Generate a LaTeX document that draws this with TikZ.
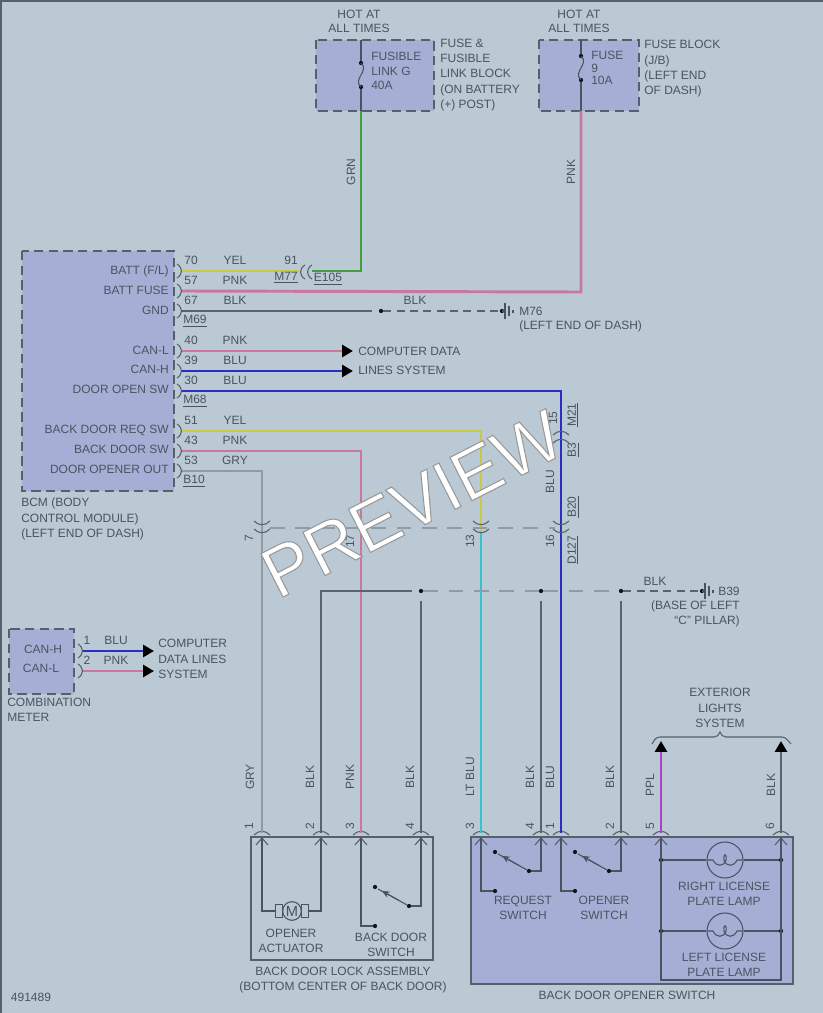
\documentclass[tikz,border=0pt]{standalone}
\usepackage{fontspec}
\setmainfont{Liberation Sans}
\newfontfamily\wmfont[FakeBold=1.5]{Liberation Sans}
\usetikzlibrary{arrows.meta,calc}
\definecolor{paper}{HTML}{BAC9D3}
\definecolor{unit}{HTML}{A5AFD5}
\definecolor{ink}{HTML}{4A5460}
\definecolor{edge}{HTML}{56606B}
\definecolor{cYEL}{HTML}{C6CB45}
\definecolor{cPNK}{HTML}{C9779C}
\definecolor{cBLU}{HTML}{2A2EC4}
\definecolor{cGRN}{HTML}{3F9E3F}
\definecolor{cGRY}{HTML}{8F9BA5}
\definecolor{cBLK}{HTML}{5A626B}
\definecolor{cLTB}{HTML}{36C4CC}
\definecolor{cPPL}{HTML}{B43EC4}
\tikzset{
    every node/.style={font=\fontsize{9}{11}\selectfont,text=ink,inner sep=0pt},
    >=Stealth,
    wire/.style={line width=2.2pt},
    thinw/.style={draw=ink,line width=.8pt},
    dashw/.style={draw=cBLK,line width=1.3pt,dash pattern=on 6pt off 4pt},
    faint/.style={draw=cGRY,line width=.8pt,dash pattern=on 11pt off 8pt},
    unitbox/.style={draw=edge,fill=unit,line width=1pt,dash pattern=on 7pt off 4pt},
    solidbox/.style={draw=edge,line width=1.1pt},
    tagl/.style={anchor=west,align=left},
    tagr/.style={anchor=east,align=right},
    tagv/.style={rotate=90},
    dotn/.style={circle,fill=black!75!ink,minimum size=3.2pt},
    lampc/.style={circle,draw=ink,line width=.8pt,minimum size=27pt},
    motorc/.style={circle,draw=ink,fill=paper,line width=.8pt,minimum size=14pt},
    arrowend/.style={-{Triangle[color=black,length=8.2pt,width=9pt]}},
    pinr/.pic={\draw[edge,line width=.8pt] (-2,-7) .. controls (4,-3) and (4,3) .. (-2,7);},
    pinl/.pic={\draw[edge,line width=.8pt] (2,-7) .. controls (-4,-3) and (-4,3) .. (2,7);},
    pindown/.pic={\draw[edge,line width=.8pt] (-8,-3) .. controls (-3,2) and (3,2) .. (8,-3);},
    pinup/.pic={\draw[edge,line width=.8pt] (-8,3) .. controls (-3,-2) and (3,-2) .. (8,3);},
    pinin/.pic={\draw[edge,line width=.8pt] (-6,7) -- (0,0) -- (6,7);},
    earth/.pic={\draw[ink,line width=.8pt] (0,0) -- (3,0) (3,-8) -- (3,8) (7,-5) -- (7,5) (11,-1.5) -- (11,1.5);},
    lampcoil/.pic={\draw[ink,line width=.8pt] (-18,0) -- (-12,0) .. controls (-9,7) and (-1,7) .. (1,0)
        .. controls (2,-7) and (-2,-7) .. (-1,0) .. controls (1,7) and (9,7) .. (12,0) -- (18,0);},
    fuselink/.pic={\draw[ink,line width=.8pt] (0,0) .. controls (9,8) and (-9,16) .. (0,24);},
}
\begin{document}
\begin{tikzpicture}[x=.75pt,y=-.75pt]
    \fill[paper] (0,0) rectangle (823,1013);
    \useasboundingbox (0,0) rectangle (823,1013);
    \draw[edge,line width=1.3pt] (1,1013) -- (1,1) -- (823,1);

    \draw[unitbox] (316,40) rectangle (434,111);
    \draw[unitbox] (539,40) rectangle (639,111);
    \draw[unitbox] (22,251) rectangle (174,491);
    \draw[unitbox] (9,629) rectangle (74,694);
    \draw[solidbox,fill=unit] (471,837) rectangle (793,984);
    \draw[solidbox] (251,837) rectangle (433,960);

    \foreach \n/\x/\y in {fgtop/361/40,fgout/361/111,f9top/581/40,f9out/581/111,
        e105/312/271,m77/299/271,grnup/361/271,pnkup/581/292,
        p70/182/271,p57/182/291,p67/182/311,p40/182/351,p39/182/371,p30/182/391,
        p51/182/431,p43/182/451,p53/182/471,
        can1/82/651,can2/82/671,
        canl/353/351,canh/353/371,cm1/154/651,cm2/154/671,
        opn/561/391,req/481/431,bds/361/451,out/262/471,
        m21/561/431,b3/561/441,bcl/481/523,bcr/481/532,
        gndend/372/311,gnd39/321/591,
        ltl/661/741,ltr/781/741}
        {\coordinate (\n) at (\x,\y);}
    \foreach \x in {262,321,361,421,481,541,561,621,661,781}{
        \coordinate (b\x) at (\x,833);
        \coordinate (i\x) at (\x,838);
        \pic at (\x,832) {pinup};
        \pic at (\x,838) {pinin};
    }

    \node[dotn] (fga) at (361,63) {};
    \node[dotn] (fgb) at (361,87) {};
    \node[dotn] (f9a) at (581,56) {};
    \node[dotn] (f9b) at (581,80) {};
    \pic at (361,63) {fuselink};
    \pic at (581,56) {fuselink};
    \draw[thinw] (fgtop) -- (fga) (fgb) -- (fgout) (f9top) -- (f9a) (f9b) -- (f9out);

    \draw[wire,cGRN] (fgout) -- (grnup) -- (e105);
    \draw[wire,cPNK] (f9out) -- (pnkup) -- (p57);
    \draw[wire,cYEL] (p70) -- (m77);
    \draw[wire,cBLK] (p67) -- (gndend);
    \draw[wire,cPNK,arrowend] (p40) -- (canl);
    \draw[wire,cBLU,arrowend] (p39) -- (canh);
    \draw[wire,cBLU,arrowend] (can1) -- (cm1);
    \draw[wire,cPNK,arrowend] (can2) -- (cm2);
    \draw[wire,cBLU] (p30) -- (opn) -- (b561);
    \draw[wire,cYEL] (p51) -- (req) -- (bcr);
    \draw[wire,cLTB] (bcr) -- (b481);
    \draw[wire,cPNK] (p43) -- (bds) -- (b361);
    \draw[wire,cGRY] (p53) -- (out) -- (b262);
    \draw[wire,cBLK] (b321) -- (gnd39) -- ++(91,0) coordinate (gnda);
    \draw[wire,cPPL,arrowend] (b661) -- (ltl);
    \draw[wire,cBLK,arrowend] (b781) -- (ltr);

    \foreach \y in {271,291,311,351,371,391,431,451,471}{\pic at (179,\y) {pinr};}
    \pic at (80,651) {pinr};
    \pic at (80,671) {pinr};
    \pic at (303,272) {pinl};
    \pic at (310,272) {pinl};
    \foreach \x in {262,481,561}{
        \pic at (\x,524) {pindown};
        \pic at (\x,532) {pindown};
    }
    \pic at (561,432) {pinup};
    \pic at (561,440) {pinup};

    \node[dotn] (d381) at (381,311) {};
    \node[dotn] (d502) at (502,311) {};
    \pic at (502,311) {earth};
    \draw[dashw] (d381) -- (d502);
    \draw[faint] (270,528) coordinate (dl) -- (555,528) coordinate (dr);

    \foreach \n/\x in {g421/421,g541/541,g621/621,g702/702}{\node[dotn] (\n) at (\x,591) {};}
    \pic at (702,591) {earth};
    \draw[faint] (g421) -- (g541);
    \draw[faint] (g541) -- (g621);
    \draw[dashw] (g621) -- (g702);
    \draw[wire,cBLK] (b421) -- (421,601) coordinate (t421);
    \draw[wire,cBLK] (b541) -- (541,601) coordinate (t541);
    \draw[wire,cBLK] (b621) -- (621,601) coordinate (t621);

    \node[motorc] (mot) at (292,911) {\fontsize{11}{11}\selectfont M};
    \node[draw=ink,line width=.8pt,minimum width=5.5pt,minimum height=10pt] (brl) at (279,911) {};
    \node[draw=ink,line width=.8pt,minimum width=5.5pt,minimum height=10pt] (brr) at (305,911) {};
    \draw[thinw] (i262) |- (brl.west);
    \draw[thinw] (i321) |- (brr.east);

    \foreach \w/\a/\b/\t in {sa/361/421/887,sb/481/541/852,sc/561/621/852}{
        \node[dotn] (\w1) at (\a+14,\t) {};
        \node[dotn] (\w2) at (\a+14,\t+39) {};
        \node[dotn] (\w3) at (\a+48,\t+19) {};
        \draw[thinw] (i\a) |- (\w2);
        \draw[thinw] (\w3) -| (i\b);
        \draw[thinw] (\w3) -- ($(\w1)+(3,2)$);
        \draw[thinw,-{Stealth[length=6pt,width=5pt]}] ($(\w1)!.7!(\w3)$) -- ($(\w1)!.2!(\w3)$);
    }

    \foreach \n/\y in {lampR/860,lampL/931}{
        \node[lampc] (\n) at (725,\y) {};
        \node[dotn] (\n a) at (661,\y) {};
        \node[dotn] (\n b) at (781,\y) {};
        \pic at (725,\y) {lampcoil};
        \draw[thinw] (\n a) -- (\n.west) (\n.east) -- (\n b);
    }
    \coordinate (lampbl) at (661,980);
    \coordinate (lampbr) at (781,980);
    \draw[thinw] (i661) -- (lampbl) -- (lampbr) -- (i781);

    \draw[edge,line width=.8pt] (652,744) .. controls (654,741) and (655,737) .. (660,737)
        -- (714,737) .. controls (717,737) and (719,735) .. (720,732)
        .. controls (721,735) and (723,737) .. (726,737) -- (782,737)
        .. controls (786,737) and (788,741) .. (791,744);

    \node (hot1) at (359,21) [align=center] {HOT AT\\[-.5pt]ALL TIMES};
    \node (hot2) at (579,21) [align=center] {HOT AT\\[-.5pt]ALL TIMES};
    \node[tagl] (fglab) at (371,71) {FUSIBLE\\LINK G\\40A};
    \node[tagl] (f9lab) at (591,68) {FUSE\\[-1.5pt]9\\[-1.5pt]10A};
    \node[tagl] (fbl1) at (440,75) {FUSE \&\\[.5pt]FUSIBLE\\[.5pt]LINK BLOCK\\[.5pt](ON BATTERY\\[.5pt](+) POST)};
    \node[tagl] (fbl2) at (644,69) {FUSE BLOCK\\[.5pt](J/B)\\[.5pt](LEFT END\\[.5pt]OF DASH)};
    \node[tagv] (lgrn) at (351,172) {GRN};
    \node[tagv] (lpnk) at (571,172) {PNK};

    \foreach \n/\y/\t in {a/271/{BATT (F/L)},b/290/BATT FUSE,c/310/GND,d/350/CAN-L,e/369/CAN-H,
        f/389/DOOR OPEN SW,g/430/BACK DOOR REQ SW,h/449/BACK DOOR SW,i/469/DOOR OPENER OUT}
        {\node[tagr] (bcm\n) at (169,\y) {\t};}
    \foreach \y/\p/\c in {260/70/YEL,280/57/PNK,300/67/BLK,340/40/PNK,360/39/BLU,380/30/BLU,
        420/51/YEL,440/43/PNK,460/53/GRY}{
        \node (n\p) at (191,\y) {\p};
        \node (c\p) at (235,\y) {\c};
    }
    \node (n91) at (291,260) {91};
    \node (lm77) at (286,278) {\underline{M77}};
    \node (le105) at (328,279) {\underline{E105}};
    \node (lm69) at (195,321) {\underline{M69}};
    \node (lm68) at (195,401) {\underline{M68}};
    \node (lb10) at (194,481) {\underline{B10}};
    \node[tagl] (bcmcap) at (21,519) {BCM (BODY\\[.5pt]CONTROL MODULE)\\[.5pt](LEFT END OF DASH)};
    \node (lblk1) at (415,300) {BLK};
    \node[tagl] (lm76) at (519,311) {M76};
    \node[tagl] (lm76b) at (519,326) {(LEFT END OF DASH)};
    \node[tagl] (cdl) at (358,361) {COMPUTER DATA\\[3pt]LINES SYSTEM};

    \node (lblk2) at (655,581) {BLK};
    \node[tagl] (lb39) at (718,591) {B39};
    \node[tagr] (lb39b) at (740,614) {(BASE OF LEFT\\[.5pt]``C'' PILLAR)};

    \node (cmh) at (43,649) {CAN-H};
    \node (cml) at (41,668) {CAN-L};
    \node (cn1) at (87,640) {1};
    \node (cn2) at (87,660) {2};
    \node (cc1) at (116,640) {BLU};
    \node (cc2) at (116,660) {PNK};
    \node[tagl] (cdl2) at (158,659) {COMPUTER\\[.5pt]DATA LINES\\[.5pt]SYSTEM};
    \node[tagl] (cmcap) at (7,710) {COMBINATION\\[.5pt]METER};

    \foreach \x/\t in {350/17,470/13,550/16}{\node[tagv] (w\t) at (\x,541) {\t};}
    \node[tagv] (w7) at (249,538) {7};
    \node[tagv] (w15) at (553,418) {15};
    \node[tagv] (lm21) at (573,415) {\underline{M21}};
    \node[tagv] (lb3) at (573,450) {\underline{B3}};
    \node[tagv] (lb20) at (573,507) {\underline{B20}};
    \node[tagv] (ld127) at (573,550) {\underline{D127}};
    \node[tagv] (lblu) at (550,482) {BLU};

    \foreach \x/\t in {250/GRY,310/BLK,350/PNK,410/BLK,470/LT BLU,530/BLK,550/BLU,610/BLK}
        {\node[tagv] at (\x,777) {\t};}
    \foreach \x/\t in {650/PPL,771/BLK}{\node[tagv] at (\x,785) {\t};}
    \foreach \x/\t in {249/1,310/2,350/3,410/4,470/3,530/4,550/1,610/2,650/5,770/6}
        {\node[tagv] at (\x,826) {\t};}

    \node (ext) at (720,708) [align=center] {EXTERIOR\\[.5pt]LIGHTS\\[.5pt]SYSTEM};
    \node (actlab) at (291,941) [align=center] {OPENER\\[.5pt]ACTUATOR};
    \node (swlab) at (391,945) [align=center] {BACK DOOR\\[.5pt]SWITCH};
    \node (asmcap) at (343,980) [align=center] {BACK DOOR LOCK ASSEMBLY\\[.5pt](BOTTOM CENTER OF BACK DOOR)};
    \node (reqlab) at (523,908) [align=center] {REQUEST\\[.5pt]SWITCH};
    \node (opnlab) at (604,908) [align=center] {OPENER\\[.5pt]SWITCH};
    \node (rlab) at (724,894) [align=center] {RIGHT LICENSE\\[.5pt]PLATE LAMP};
    \node (llab) at (724,965) [align=center] {LEFT LICENSE\\[.5pt]PLATE LAMP};
    \node (bcap) at (627,995) {BACK DOOR OPENER SWITCH};
    \node (figno) at (31,997) {491489};

    \node[rotate=27,text=white,font=\wmfont\fontsize{53}{53}\selectfont] (wmark) at (412,504)
        {\special{pdf:code 0.6 G}PREVIEW};
\end{tikzpicture}
\end{document}
